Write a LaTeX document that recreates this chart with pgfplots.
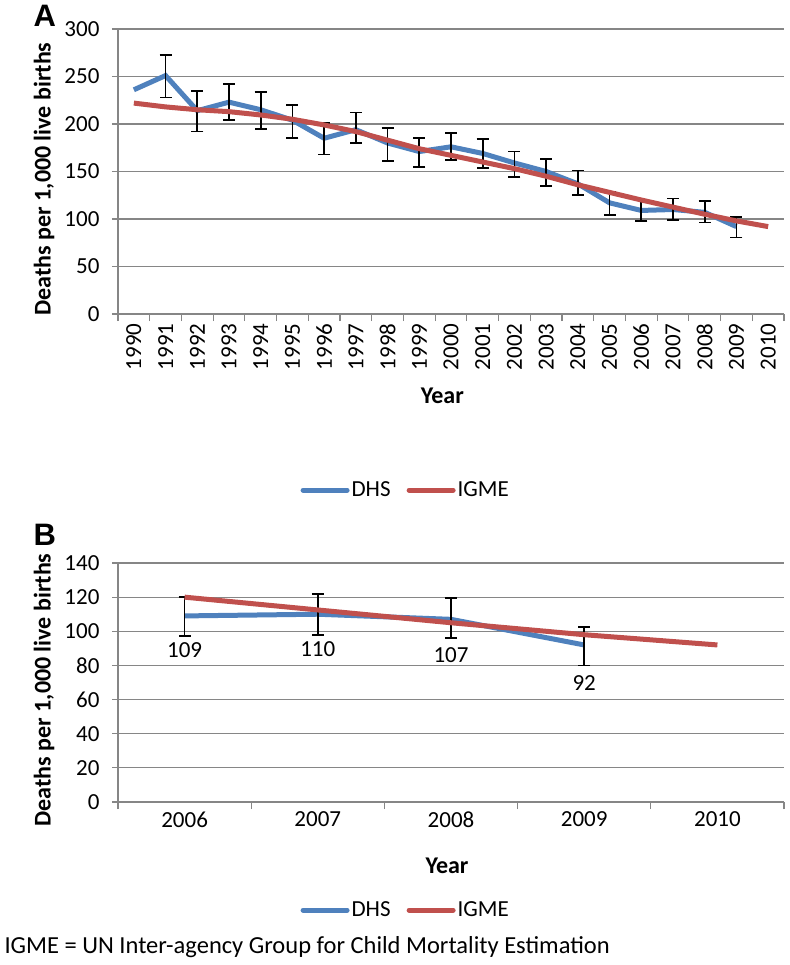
\documentclass[border=0pt]{standalone}
\usepackage{fontspec}
\setmainfont{Carlito}
\newfontfamily\panelfont{Liberation Sans}
\usepackage{pgfplots}
\pgfplotsset{compat=1.18}
\usepackage{pgfplotstable}

\definecolor{dhs}{RGB}{79,129,189}
\definecolor{igme}{RGB}{192,80,77}
\definecolor{gridc}{RGB}{134,134,134}

\pgfplotstableread{
x y ep em
0 236 0 0
1 251 21.5 23
2 214 21 22
3 223 19 19
4 215 19 20
5 204 16 19
6 185 16 17
7 194 18 14
8 180 16 19
9 171 14 16
10 176 14.5 14
11 169 15.5 15
12 159 12 15
13 150 13 15
14 137 14 12
15 117 12 12.5
16 109 11 11
17 110 11.5 11
18 107 12 10.5
19 92 10 11.5
}\dhsA

\pgfplotstableread{
x y
0 222
1 218
2 215
3 213
4 209.5
5 205
6 199
7 192
8 183
9 174
10 167
11 160
12 153
13 145
14 136
15 128
16 120
17 112.5
18 105
19 98
20 92
}\igmeA

\pgfplotstableread{
x y ep em
0 109 11 11.6
1 110 12 12
2 107 12.5 11
3 92 10.5 12
}\dhsB

\pgfplotstableread{
x y
0 120
1 112.5
2 105
3 98
4 92
}\igmeB

\pgfplotsset{
  excel/.style={
    scale only axis,
    width=666pt,
    axis x line*=bottom,
    axis y line*=left,
    axis line style={draw=gridc, line width=1.2pt, -},
    ymajorgrids,
    grid style={draw=gridc, line width=1.2pt},
    tick align=outside,
    major tick length=6pt,
    minor tick length=7pt,
    major x tick style={draw=none},
    minor x tick style={draw=gridc, line width=1.2pt},
    ytick style={draw=gridc, line width=1.2pt},
    tick label style={font=\fontsize{23}{27}\selectfont},
    y tick label style={xshift=-9pt},
    /pgf/number format/assume math mode=true,
    label style={font=\bfseries\fontsize{24}{28}\selectfont},
    ylabel={Deaths per 1,000 live births},
    xlabel={Year},
    legend style={draw=none, fill=none, legend columns=2,
      font=\fontsize{23}{27}\selectfont,
      /tikz/every even column/.append style={column sep=14pt},
      nodes={inner xsep=2pt}},
    legend image code/.code={\draw[#1, line cap=round] (0pt,0pt) -- (44pt,0pt);},
  },
  ebars/.style={draw=none, forget plot,
    error bars/.cd, y dir=both, y explicit,
    error bar style={draw=black, solid, line width=1.6pt},
    error mark options={rotate=90, mark size=6pt, draw=black, line width=1.6pt}},
}

\begin{document}
\begin{tikzpicture}
\path[use as bounding box] (0pt,0pt) rectangle (789pt,-965pt);

\node[anchor=base west, font=\panelfont\bfseries\fontsize{31}{36}\selectfont] at (30pt,-27pt) {A};
\node[anchor=base west, font=\panelfont\bfseries\fontsize{31}{36}\selectfont] at (30pt,-545pt) {B};

\begin{axis}[excel,
  at={(118pt,-314pt)}, anchor=south west,
  height=285pt,
  xmin=-0.5, xmax=20.5, ymin=0, ymax=300,
  ytick={0,50,...,300},
  xtick={0,...,20},
  xticklabels={1990,1991,1992,1993,1994,1995,1996,1997,1998,1999,2000,2001,2002,2003,2004,2005,2006,2007,2008,2009,2010},
  minor xtick={-0.5,0.5,...,20.5},
  x tick label style={rotate=90, anchor=east},
  xlabel style={at={(axis description cs:0.487,-0.288)}, anchor=center},
  ylabel style={at={(axis description cs:-0.111,0.474)}, anchor=center},
  legend style={at={(axis description cs:0.432,-0.618)}, anchor=center},
]
\addplot[dhs, line width=5pt, forget plot] table[x=x, y=y] {\dhsA};
\addplot[skip coords between index={0}{1}, ebars] table[x=x, y=y, y error plus=ep, y error minus=em] {\dhsA};
\addplot[igme, line width=5pt, forget plot] table[x=x, y=y] {\igmeA};
\addlegendimage{dhs, line width=5pt}
\addlegendentry{DHS}
\addlegendimage{igme, line width=5pt}
\addlegendentry{IGME}
\end{axis}

\begin{axis}[excel,
  at={(118pt,-802pt)}, anchor=south west,
  height=239pt,
  xmin=-0.5, xmax=4.5, ymin=0, ymax=140,
  ytick={0,20,...,140},
  xtick={0,...,4},
  xticklabels={2006,2007,2008,2009,2010},
  minor xtick={-0.5,0.5,...,4.5},
  xlabel style={at={(axis description cs:0.494,-0.268)}, anchor=center},
  ylabel style={at={(axis description cs:-0.111,0.469)}, anchor=center},
  legend style={at={(axis description cs:0.432,-0.452)}, anchor=center},
]
\addplot[dhs, line width=5pt, forget plot] table[x=x, y=y] {\dhsB};
\addplot[ebars] table[x=x, y=y, y error plus=ep, y error minus=em] {\dhsB};
\addplot[igme, line width=5pt, forget plot] table[x=x, y=y] {\igmeB};
\addlegendimage{dhs, line width=5pt}
\addlegendentry{DHS}
\addlegendimage{igme, line width=5pt}
\addlegendentry{IGME}
\node[font=\fontsize{23}{27}\selectfont] at (axis cs:0,88.9) {109};
\node[font=\fontsize{23}{27}\selectfont] at (axis cs:1,89.7) {110};
\node[font=\fontsize{23}{27}\selectfont] at (axis cs:2,86.2) {107};
\node[font=\fontsize{23}{27}\selectfont] at (axis cs:3,69.7) {92};
\end{axis}

\node[anchor=base west, font=\fontsize{24.5}{29}\selectfont] at (1pt,-953pt) {IGME = UN Inter-agency Group for Child Mortality Estimation};
\end{tikzpicture}
\end{document}
